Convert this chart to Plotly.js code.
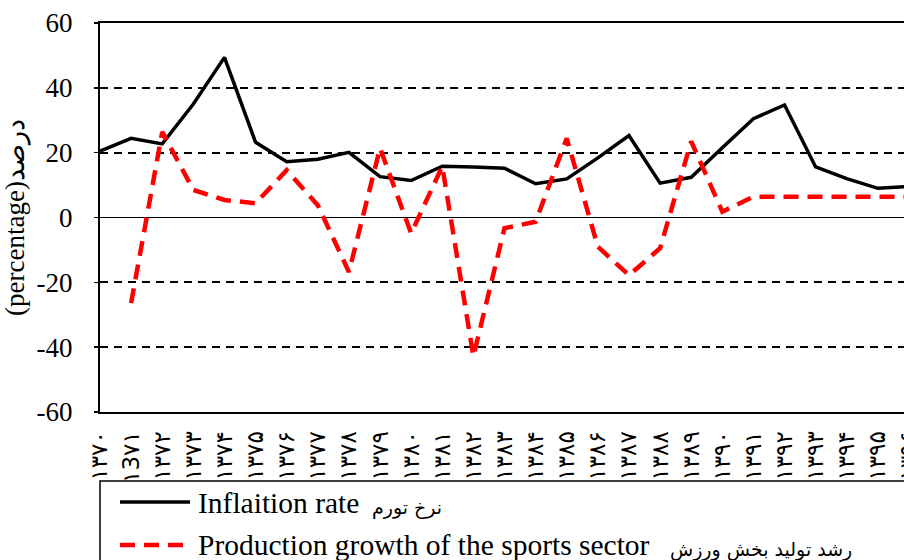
<!DOCTYPE html>
<html>
<head>
<meta charset="utf-8">
<script src="https://cdn.plot.ly/plotly-3.0.1.min.js"></script>
<style>html,body{margin:0;padding:0;background:#fff;overflow:hidden;width:904px;height:560px;}#chart{width:909px;height:560px;}</style>
</head>
<body>
<div id="chart"></div>
<script>
// ---- data ----
const years = ['۱۳۷۰','۱3۷۱','۱۳۷۲','۱۳۷۳','۱۳۷۴','۱۳۷۵','۱۳۷۶','۱۳۷۷','۱۳۷۸','۱۳۷۹',
               '۱۳۸۰','۱۳۸۱','۱۳۸۲','۱۳۸۳','۱۳۸۴','۱۳۸۵','۱۳۸۶','۱۳۸۷','۱۳۸۸','۱۳۸۹',
               '۱۳۹۰','۱۳۹۱','۱۳۹۲','۱۳۹۳','۱۳۹۴','۱۳۹۵','۱۳۹۶'];
const inflation = [20.5, 24.4, 22.7, 35.0, 49.4, 23.2, 17.2, 18.0, 20.1, 12.6,
                   11.4, 15.8, 15.6, 15.2, 10.4, 11.9, 18.4, 25.3, 10.6, 12.4,
                   21.5, 30.5, 34.7, 15.6, 12.0, 9.0, 9.6];
const sportsGrowth = [null, -26.4, 26.4, 8.5, 5.4, 4.4, 14.6, 3.8, -16.8, 21.4,
                      -4.9, 15.8, -42.8, -3.3, -1.3, 24.4, -9.0, -17.8, -9.5, 23.5,
                      1.8, 6.4, 6.4, 6.4, 6.4, 6.4, 6.4];
const yTicks = [-60, -40, -20, 0, 20, 40, 60];
const seriesNames = ['Inflaition rate', 'Production growth of the sports sector'];
const seriesNamesFa = ['نرخ تورم', 'رشد تولید بخش ورزش'];

// ---- layout helpers (pixel -> paper) ----
const W = 909, H = 560, ML = 100, MR = 0, MT = 23, MB = 148;
const PW = W - ML - MR, PH = H - MT - MB;
const px = v => (v - ML) / PW;
const py = v => (H - MB - v) / PH;

const FONT = 'Liberation Serif, Times New Roman, DejaVu Serif, serif';
const FA_FONT = 'DejaVu Sans, sans-serif';
const RED_DASH = '15px,9px';

const traces = [
  {x: years, y: inflation, type: 'scatter', mode: 'lines', name: seriesNames[0],
   line: {color: '#000000', width: 3.5}, connectgaps: false, hoverinfo: 'skip'},
  {x: years, y: sportsGrowth, type: 'scatter', mode: 'lines', name: seriesNames[1],
   line: {color: '#ff0000', width: 4.5, dash: RED_DASH}, connectgaps: false, hoverinfo: 'skip'}
];

const layout = {
  width: W, height: H,
  margin: {l: ML, r: MR, t: MT, b: MB, pad: 0},
  paper_bgcolor: '#ffffff', plot_bgcolor: '#ffffff',
  showlegend: false,
  font: {family: FONT, color: '#000000'},
  xaxis: {
    type: 'category', range: [0, 26],
    showgrid: false, zeroline: false,
    showline: true, mirror: true, linecolor: '#000000', linewidth: 2,
    ticks: '', tickangle: -90,
    tickfont: {family: FA_FONT, size: 23, color: '#000000'},
    ticklabelstandoff: 8,
    automargin: false
  },
  yaxis: {
    range: [-60, 60], tickvals: yTicks, ticktext: yTicks.map(String),
    showgrid: true, gridcolor: '#000000', gridwidth: 2, griddash: '8px,6px',
    zeroline: true, zerolinecolor: '#000000', zerolinewidth: 1.5,
    showline: true, linecolor: '#000000', linewidth: 2, mirror: false,
    ticks: 'outside', ticklen: 4, tickcolor: '#000000', tickwidth: 1.5,
    tickfont: {family: FONT, size: 27, color: '#000000'},
    ticklabelstandoff: 16,
    title: {text: '(percentage)درصد', font: {family: FONT, size: 27, color: '#000000'}, standoff: 5},
    automargin: false
  },
  shapes: [
    {type: 'rect', xref: 'paper', yref: 'paper', x0: px(100), x1: px(925), y0: py(481), y1: py(575),
     line: {color: '#000000', width: 1.5}, fillcolor: '#ffffff', layer: 'above'},
    {type: 'line', xref: 'paper', yref: 'paper', x0: px(120), x1: px(190), y0: py(502), y1: py(502),
     line: {color: '#000000', width: 3.5}, layer: 'above'},
    {type: 'line', xref: 'paper', yref: 'paper', x0: px(120), x1: px(192), y0: py(545), y1: py(545),
     line: {color: '#ff0000', width: 4.5, dash: RED_DASH}, layer: 'above'}
  ],
  annotations: [
    {xref: 'paper', yref: 'paper', x: px(196), y: py(503), xanchor: 'left', yanchor: 'middle',
     text: seriesNames[0], showarrow: false, font: {family: FONT, size: 29.5, color: '#000000'}},
    {xref: 'paper', yref: 'paper', x: px(370), y: py(507), xanchor: 'left', yanchor: 'middle',
     text: seriesNamesFa[0], showarrow: false, font: {family: FA_FONT, size: 19, color: '#000000'}},
    {xref: 'paper', yref: 'paper', x: px(196), y: py(545), xanchor: 'left', yanchor: 'middle',
     text: seriesNames[1], showarrow: false, font: {family: FONT, size: 29.5, color: '#000000'}},
    {xref: 'paper', yref: 'paper', x: px(668), y: py(549), xanchor: 'left', yanchor: 'middle',
     text: seriesNamesFa[1], showarrow: false, font: {family: FA_FONT, size: 19, color: '#000000'}}
  ]
};

Plotly.newPlot('chart', traces, layout, {staticPlot: true, displayModeBar: false});
</script>
</body>
</html>
